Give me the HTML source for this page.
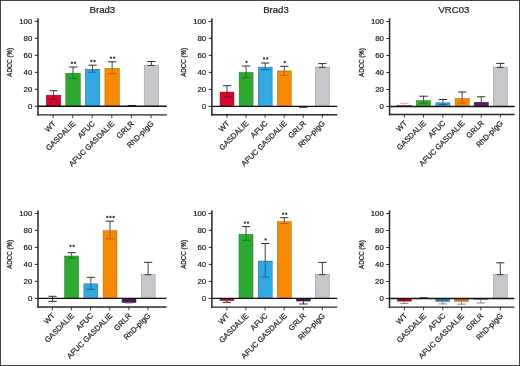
<!DOCTYPE html>
<html><head><meta charset="utf-8"><style>
html,body{margin:0;padding:0;background:#fff;}
body{width:520px;height:366px;overflow:hidden;}
svg{display:block;font-family:"Liberation Sans", sans-serif;-webkit-font-smoothing:antialiased;will-change:transform;}
text{fill:#1c1c1c;stroke:#1c1c1c;stroke-width:0.22px;}
text.yl{stroke-width:0.26px;}
</style></head><body>
<svg width="520" height="366" viewBox="0 0 520 366">
<rect x="0" y="0" width="520" height="366" fill="#fff"/>
<text x="102.40" y="12.50" font-size="9.6" text-anchor="middle">Brad3</text>
<text class="yl" transform="translate(12.00,62.30) rotate(-90)" font-size="7.7" text-anchor="middle" textLength="28.8" lengthAdjust="spacingAndGlyphs">ADCC (%)</text>
<line x1="34.80" y1="106.30" x2="38.00" y2="106.30" stroke="#262626" stroke-width="1"/>
<text x="32.30" y="109.05" font-size="7.8" text-anchor="end">0</text>
<line x1="34.80" y1="89.30" x2="38.00" y2="89.30" stroke="#262626" stroke-width="1"/>
<text x="32.30" y="92.05" font-size="7.8" text-anchor="end">20</text>
<line x1="34.80" y1="72.30" x2="38.00" y2="72.30" stroke="#262626" stroke-width="1"/>
<text x="32.30" y="75.05" font-size="7.8" text-anchor="end">40</text>
<line x1="34.80" y1="55.30" x2="38.00" y2="55.30" stroke="#262626" stroke-width="1"/>
<text x="32.30" y="58.05" font-size="7.8" text-anchor="end">60</text>
<line x1="34.80" y1="38.30" x2="38.00" y2="38.30" stroke="#262626" stroke-width="1"/>
<text x="32.30" y="41.05" font-size="7.8" text-anchor="end">80</text>
<line x1="34.80" y1="21.30" x2="38.00" y2="21.30" stroke="#262626" stroke-width="1"/>
<text x="32.30" y="24.05" font-size="7.8" text-anchor="end">100</text>
<rect x="46.30" y="95.15" width="14.50" height="11.15" fill="#d5072b" stroke="#8a0a22" stroke-width="0.5"/>
<line x1="53.55" y1="90.70" x2="53.55" y2="94.90" stroke="#484848" stroke-width="1.0"/>
<line x1="49.45" y1="90.70" x2="57.65" y2="90.70" stroke="#2e2e2e" stroke-width="1.0"/>
<line x1="53.55" y1="94.90" x2="53.55" y2="99.30" stroke="#8a0a22" stroke-width="1.0"/>
<line x1="49.45" y1="99.30" x2="57.65" y2="99.30" stroke="#8a0a22" stroke-width="1.0"/>
<rect x="65.80" y="73.25" width="14.50" height="33.05" fill="#30a932" stroke="#1b7520" stroke-width="0.5"/>
<line x1="73.05" y1="67.00" x2="73.05" y2="73.00" stroke="#484848" stroke-width="1.0"/>
<line x1="68.95" y1="67.00" x2="77.15" y2="67.00" stroke="#2e2e2e" stroke-width="1.0"/>
<line x1="73.05" y1="73.00" x2="73.05" y2="78.40" stroke="#1b7520" stroke-width="1.0"/>
<line x1="68.95" y1="78.40" x2="77.15" y2="78.40" stroke="#1b7520" stroke-width="1.0"/>
<path d="M71.88,61.60V64.00M70.80,62.20L72.95,63.40M70.80,63.40L72.95,62.20" stroke="#1e1e1e" stroke-width="0.75" fill="none"/>
<path d="M75.03,61.60V64.00M73.95,62.20L76.11,63.40M73.95,63.40L76.11,62.20" stroke="#1e1e1e" stroke-width="0.75" fill="none"/>
<rect x="85.30" y="69.25" width="14.50" height="37.05" fill="#34a6e0" stroke="#1b6690" stroke-width="0.5"/>
<line x1="92.55" y1="65.20" x2="92.55" y2="69.00" stroke="#484848" stroke-width="1.0"/>
<line x1="88.45" y1="65.20" x2="96.65" y2="65.20" stroke="#2e2e2e" stroke-width="1.0"/>
<line x1="92.55" y1="69.00" x2="92.55" y2="72.20" stroke="#1b6690" stroke-width="1.0"/>
<line x1="88.45" y1="72.20" x2="96.65" y2="72.20" stroke="#1b6690" stroke-width="1.0"/>
<path d="M91.38,59.80V62.20M90.30,60.40L92.45,61.60M90.30,61.60L92.45,60.40" stroke="#1e1e1e" stroke-width="0.75" fill="none"/>
<path d="M94.53,59.80V62.20M93.45,60.40L95.61,61.60M93.45,61.60L95.61,60.40" stroke="#1e1e1e" stroke-width="0.75" fill="none"/>
<rect x="104.90" y="68.25" width="14.50" height="38.05" fill="#f68a02" stroke="#b36208" stroke-width="0.5"/>
<line x1="112.15" y1="61.80" x2="112.15" y2="68.00" stroke="#484848" stroke-width="1.0"/>
<line x1="108.05" y1="61.80" x2="116.25" y2="61.80" stroke="#2e2e2e" stroke-width="1.0"/>
<line x1="112.15" y1="68.00" x2="112.15" y2="73.80" stroke="#b36208" stroke-width="1.0"/>
<line x1="108.05" y1="73.80" x2="116.25" y2="73.80" stroke="#b36208" stroke-width="1.0"/>
<path d="M110.97,56.50V58.90M109.89,57.10L112.05,58.30M109.89,58.30L112.05,57.10" stroke="#1e1e1e" stroke-width="0.75" fill="none"/>
<path d="M114.12,56.50V58.90M113.05,57.10L115.20,58.30M113.05,58.30L115.20,57.10" stroke="#1e1e1e" stroke-width="0.75" fill="none"/>
<line x1="127.65" y1="105.60" x2="135.85" y2="105.60" stroke="#2e2e2e" stroke-width="1.3"/>
<rect x="144.20" y="65.15" width="14.50" height="41.15" fill="#c6c6cb" stroke="#8e8e93" stroke-width="0.5"/>
<line x1="151.45" y1="61.50" x2="151.45" y2="64.90" stroke="#484848" stroke-width="1.0"/>
<line x1="147.35" y1="61.50" x2="155.55" y2="61.50" stroke="#2e2e2e" stroke-width="1.0"/>
<line x1="147.85" y1="65.50" x2="154.55" y2="65.50" stroke="#2e2e2e" stroke-width="0.9"/>
<line x1="38.00" y1="106.30" x2="166.80" y2="106.30" stroke="#111" stroke-width="1.4"/>
<line x1="38.00" y1="18.20" x2="38.00" y2="115.60" stroke="#262626" stroke-width="1.5"/>
<line x1="37.30" y1="114.90" x2="166.80" y2="114.90" stroke="#262626" stroke-width="1.4"/>
<line x1="53.20" y1="114.90" x2="53.20" y2="118.10" stroke="#262626" stroke-width="0.9"/>
<text transform="translate(56.30,124.10) rotate(-45)" font-size="7.6" text-anchor="end">WT</text>
<line x1="72.70" y1="114.90" x2="72.70" y2="118.10" stroke="#262626" stroke-width="0.9"/>
<text transform="translate(75.80,124.10) rotate(-45)" font-size="7.6" text-anchor="end">GASDALIE</text>
<line x1="92.20" y1="114.90" x2="92.20" y2="118.10" stroke="#262626" stroke-width="0.9"/>
<text transform="translate(95.30,124.10) rotate(-45)" font-size="7.6" text-anchor="end">AFUC</text>
<line x1="111.80" y1="114.90" x2="111.80" y2="118.10" stroke="#262626" stroke-width="0.9"/>
<text transform="translate(114.90,124.10) rotate(-45)" font-size="7.6" text-anchor="end">AFUC GASDALIE</text>
<line x1="131.40" y1="114.90" x2="131.40" y2="118.10" stroke="#262626" stroke-width="0.9"/>
<text transform="translate(134.50,124.10) rotate(-45)" font-size="7.6" text-anchor="end">GRLR</text>
<line x1="151.10" y1="114.90" x2="151.10" y2="118.10" stroke="#262626" stroke-width="0.9"/>
<text transform="translate(154.20,124.10) rotate(-45)" font-size="7.6" text-anchor="end">RhD-pIgG</text>
<text x="276.00" y="12.50" font-size="9.6" text-anchor="middle">Brad3</text>
<text class="yl" transform="translate(185.90,62.40) rotate(-90)" font-size="7.7" text-anchor="middle" textLength="28.8" lengthAdjust="spacingAndGlyphs">ADCC (%)</text>
<line x1="208.70" y1="106.40" x2="211.90" y2="106.40" stroke="#262626" stroke-width="1"/>
<text x="206.20" y="109.15" font-size="7.8" text-anchor="end">0</text>
<line x1="208.70" y1="89.40" x2="211.90" y2="89.40" stroke="#262626" stroke-width="1"/>
<text x="206.20" y="92.15" font-size="7.8" text-anchor="end">20</text>
<line x1="208.70" y1="72.40" x2="211.90" y2="72.40" stroke="#262626" stroke-width="1"/>
<text x="206.20" y="75.15" font-size="7.8" text-anchor="end">40</text>
<line x1="208.70" y1="55.40" x2="211.90" y2="55.40" stroke="#262626" stroke-width="1"/>
<text x="206.20" y="58.15" font-size="7.8" text-anchor="end">60</text>
<line x1="208.70" y1="38.40" x2="211.90" y2="38.40" stroke="#262626" stroke-width="1"/>
<text x="206.20" y="41.15" font-size="7.8" text-anchor="end">80</text>
<line x1="208.70" y1="21.40" x2="211.90" y2="21.40" stroke="#262626" stroke-width="1"/>
<text x="206.20" y="24.15" font-size="7.8" text-anchor="end">100</text>
<rect x="220.05" y="92.05" width="13.90" height="14.35" fill="#d5072b" stroke="#8a0a22" stroke-width="0.5"/>
<line x1="227.00" y1="85.70" x2="227.00" y2="91.80" stroke="#484848" stroke-width="1.0"/>
<line x1="222.90" y1="85.70" x2="231.10" y2="85.70" stroke="#2e2e2e" stroke-width="1.0"/>
<line x1="227.00" y1="91.80" x2="227.00" y2="97.10" stroke="#8a0a22" stroke-width="1.0"/>
<line x1="222.90" y1="97.10" x2="231.10" y2="97.10" stroke="#8a0a22" stroke-width="1.0"/>
<rect x="239.15" y="72.45" width="13.90" height="33.95" fill="#30a932" stroke="#1b7520" stroke-width="0.5"/>
<line x1="246.10" y1="66.00" x2="246.10" y2="72.20" stroke="#484848" stroke-width="1.0"/>
<line x1="242.00" y1="66.00" x2="250.20" y2="66.00" stroke="#2e2e2e" stroke-width="1.0"/>
<line x1="246.10" y1="72.20" x2="246.10" y2="77.70" stroke="#1b7520" stroke-width="1.0"/>
<line x1="242.00" y1="77.70" x2="250.20" y2="77.70" stroke="#1b7520" stroke-width="1.0"/>
<path d="M246.50,60.70V63.10M245.42,61.30L247.58,62.50M245.42,62.50L247.58,61.30" stroke="#1e1e1e" stroke-width="0.75" fill="none"/>
<rect x="258.25" y="67.15" width="13.90" height="39.25" fill="#34a6e0" stroke="#1b6690" stroke-width="0.5"/>
<line x1="265.20" y1="63.00" x2="265.20" y2="66.90" stroke="#484848" stroke-width="1.0"/>
<line x1="261.10" y1="63.00" x2="269.30" y2="63.00" stroke="#2e2e2e" stroke-width="1.0"/>
<line x1="265.20" y1="66.90" x2="265.20" y2="69.60" stroke="#1b6690" stroke-width="1.0"/>
<line x1="261.10" y1="69.60" x2="269.30" y2="69.60" stroke="#1b6690" stroke-width="1.0"/>
<path d="M264.03,57.20V59.60M262.95,57.80L265.11,59.00M262.95,59.00L265.11,57.80" stroke="#1e1e1e" stroke-width="0.75" fill="none"/>
<path d="M267.18,57.20V59.60M266.10,57.80L268.25,59.00M266.10,59.00L268.25,57.80" stroke="#1e1e1e" stroke-width="0.75" fill="none"/>
<rect x="277.35" y="70.95" width="13.90" height="35.45" fill="#f68a02" stroke="#b36208" stroke-width="0.5"/>
<line x1="284.30" y1="66.30" x2="284.30" y2="70.70" stroke="#484848" stroke-width="1.0"/>
<line x1="280.20" y1="66.30" x2="288.40" y2="66.30" stroke="#2e2e2e" stroke-width="1.0"/>
<line x1="284.30" y1="70.70" x2="284.30" y2="75.40" stroke="#b36208" stroke-width="1.0"/>
<line x1="280.20" y1="75.40" x2="288.40" y2="75.40" stroke="#b36208" stroke-width="1.0"/>
<path d="M284.70,60.80V63.20M283.62,61.40L285.78,62.60M283.62,62.60L285.78,61.40" stroke="#1e1e1e" stroke-width="0.75" fill="none"/>
<line x1="299.20" y1="107.20" x2="307.40" y2="107.20" stroke="#2e2e2e" stroke-width="1.3"/>
<rect x="315.45" y="67.05" width="13.90" height="39.35" fill="#c6c6cb" stroke="#8e8e93" stroke-width="0.5"/>
<line x1="322.40" y1="63.60" x2="322.40" y2="66.80" stroke="#484848" stroke-width="1.0"/>
<line x1="318.30" y1="63.60" x2="326.50" y2="63.60" stroke="#2e2e2e" stroke-width="1.0"/>
<line x1="318.80" y1="67.40" x2="325.50" y2="67.40" stroke="#2e2e2e" stroke-width="0.9"/>
<line x1="211.90" y1="106.40" x2="337.30" y2="106.40" stroke="#111" stroke-width="1.4"/>
<line x1="211.90" y1="18.30" x2="211.90" y2="115.40" stroke="#262626" stroke-width="1.5"/>
<line x1="211.20" y1="114.70" x2="337.30" y2="114.70" stroke="#262626" stroke-width="1.4"/>
<line x1="226.90" y1="114.70" x2="226.90" y2="117.90" stroke="#262626" stroke-width="0.9"/>
<text transform="translate(230.00,123.90) rotate(-45)" font-size="7.6" text-anchor="end">WT</text>
<line x1="246.00" y1="114.70" x2="246.00" y2="117.90" stroke="#262626" stroke-width="0.9"/>
<text transform="translate(249.10,123.90) rotate(-45)" font-size="7.6" text-anchor="end">GASDALIE</text>
<line x1="265.10" y1="114.70" x2="265.10" y2="117.90" stroke="#262626" stroke-width="0.9"/>
<text transform="translate(268.20,123.90) rotate(-45)" font-size="7.6" text-anchor="end">AFUC</text>
<line x1="284.20" y1="114.70" x2="284.20" y2="117.90" stroke="#262626" stroke-width="0.9"/>
<text transform="translate(287.30,123.90) rotate(-45)" font-size="7.6" text-anchor="end">AFUC GASDALIE</text>
<line x1="303.20" y1="114.70" x2="303.20" y2="117.90" stroke="#262626" stroke-width="0.9"/>
<text transform="translate(306.30,123.90) rotate(-45)" font-size="7.6" text-anchor="end">GRLR</text>
<line x1="322.30" y1="114.70" x2="322.30" y2="117.90" stroke="#262626" stroke-width="0.9"/>
<text transform="translate(325.40,123.90) rotate(-45)" font-size="7.6" text-anchor="end">RhD-pIgG</text>
<text x="453.90" y="12.50" font-size="9.6" text-anchor="middle">VRC03</text>
<text class="yl" transform="translate(363.60,62.50) rotate(-90)" font-size="7.7" text-anchor="middle" textLength="28.8" lengthAdjust="spacingAndGlyphs">ADCC (%)</text>
<line x1="386.40" y1="106.50" x2="389.60" y2="106.50" stroke="#262626" stroke-width="1"/>
<text x="383.90" y="109.25" font-size="7.8" text-anchor="end">0</text>
<line x1="386.40" y1="89.50" x2="389.60" y2="89.50" stroke="#262626" stroke-width="1"/>
<text x="383.90" y="92.25" font-size="7.8" text-anchor="end">20</text>
<line x1="386.40" y1="72.50" x2="389.60" y2="72.50" stroke="#262626" stroke-width="1"/>
<text x="383.90" y="75.25" font-size="7.8" text-anchor="end">40</text>
<line x1="386.40" y1="55.50" x2="389.60" y2="55.50" stroke="#262626" stroke-width="1"/>
<text x="383.90" y="58.25" font-size="7.8" text-anchor="end">60</text>
<line x1="386.40" y1="38.50" x2="389.60" y2="38.50" stroke="#262626" stroke-width="1"/>
<text x="383.90" y="41.25" font-size="7.8" text-anchor="end">80</text>
<line x1="386.40" y1="21.50" x2="389.60" y2="21.50" stroke="#262626" stroke-width="1"/>
<text x="383.90" y="24.25" font-size="7.8" text-anchor="end">100</text>
<rect x="397.40" y="105.65" width="14.10" height="0.85" fill="#d5072b" stroke="#8a0a22" stroke-width="0.5"/>
<line x1="404.45" y1="103.30" x2="404.45" y2="105.40" stroke="#e8a0ae" stroke-width="1.0"/>
<line x1="400.35" y1="103.30" x2="408.55" y2="103.30" stroke="#e8a0ae" stroke-width="1.0"/>
<rect x="416.50" y="100.55" width="14.10" height="5.95" fill="#30a932" stroke="#1b7520" stroke-width="0.5"/>
<line x1="423.55" y1="96.20" x2="423.55" y2="100.30" stroke="#484848" stroke-width="1.0"/>
<line x1="419.45" y1="96.20" x2="427.65" y2="96.20" stroke="#2e2e2e" stroke-width="1.0"/>
<line x1="423.55" y1="100.30" x2="423.55" y2="103.20" stroke="#1b7520" stroke-width="1.0"/>
<line x1="419.45" y1="103.20" x2="427.65" y2="103.20" stroke="#1b7520" stroke-width="1.0"/>
<rect x="435.80" y="102.85" width="14.10" height="3.65" fill="#34a6e0" stroke="#1b6690" stroke-width="0.5"/>
<line x1="442.85" y1="99.50" x2="442.85" y2="102.60" stroke="#484848" stroke-width="1.0"/>
<line x1="438.75" y1="99.50" x2="446.95" y2="99.50" stroke="#2e2e2e" stroke-width="1.0"/>
<line x1="442.85" y1="102.60" x2="442.85" y2="104.60" stroke="#1b6690" stroke-width="1.0"/>
<line x1="438.75" y1="104.60" x2="446.95" y2="104.60" stroke="#1b6690" stroke-width="1.0"/>
<rect x="455.10" y="98.45" width="14.10" height="8.05" fill="#f68a02" stroke="#b36208" stroke-width="0.5"/>
<line x1="462.15" y1="92.00" x2="462.15" y2="98.20" stroke="#484848" stroke-width="1.0"/>
<line x1="458.05" y1="92.00" x2="466.25" y2="92.00" stroke="#2e2e2e" stroke-width="1.0"/>
<line x1="462.15" y1="98.20" x2="462.15" y2="102.90" stroke="#b36208" stroke-width="1.0"/>
<line x1="458.05" y1="102.90" x2="466.25" y2="102.90" stroke="#b36208" stroke-width="1.0"/>
<rect x="474.20" y="102.25" width="14.10" height="4.25" fill="#561e66" stroke="#3a0f48" stroke-width="0.5"/>
<line x1="481.25" y1="96.80" x2="481.25" y2="102.00" stroke="#484848" stroke-width="1.0"/>
<line x1="477.15" y1="96.80" x2="485.35" y2="96.80" stroke="#2e2e2e" stroke-width="1.0"/>
<rect x="493.30" y="67.05" width="14.10" height="39.45" fill="#c6c6cb" stroke="#8e8e93" stroke-width="0.5"/>
<line x1="500.35" y1="63.40" x2="500.35" y2="66.80" stroke="#484848" stroke-width="1.0"/>
<line x1="496.25" y1="63.40" x2="504.45" y2="63.40" stroke="#2e2e2e" stroke-width="1.0"/>
<line x1="496.75" y1="67.40" x2="503.45" y2="67.40" stroke="#2e2e2e" stroke-width="0.9"/>
<line x1="389.60" y1="106.50" x2="514.60" y2="106.50" stroke="#111" stroke-width="1.4"/>
<line x1="389.60" y1="18.40" x2="389.60" y2="115.20" stroke="#262626" stroke-width="1.5"/>
<line x1="388.90" y1="114.50" x2="514.60" y2="114.50" stroke="#262626" stroke-width="1.4"/>
<line x1="404.40" y1="114.50" x2="404.40" y2="117.70" stroke="#262626" stroke-width="0.9"/>
<text transform="translate(407.50,123.70) rotate(-45)" font-size="7.6" text-anchor="end">WT</text>
<line x1="423.50" y1="114.50" x2="423.50" y2="117.70" stroke="#262626" stroke-width="0.9"/>
<text transform="translate(426.60,123.70) rotate(-45)" font-size="7.6" text-anchor="end">GASDALIE</text>
<line x1="442.80" y1="114.50" x2="442.80" y2="117.70" stroke="#262626" stroke-width="0.9"/>
<text transform="translate(445.90,123.70) rotate(-45)" font-size="7.6" text-anchor="end">AFUC</text>
<line x1="462.10" y1="114.50" x2="462.10" y2="117.70" stroke="#262626" stroke-width="0.9"/>
<text transform="translate(465.20,123.70) rotate(-45)" font-size="7.6" text-anchor="end">AFUC GASDALIE</text>
<line x1="481.20" y1="114.50" x2="481.20" y2="117.70" stroke="#262626" stroke-width="0.9"/>
<text transform="translate(484.30,123.70) rotate(-45)" font-size="7.6" text-anchor="end">GRLR</text>
<line x1="500.30" y1="114.50" x2="500.30" y2="117.70" stroke="#262626" stroke-width="0.9"/>
<text transform="translate(503.40,123.70) rotate(-45)" font-size="7.6" text-anchor="end">RhD-pIgG</text>
<text class="yl" transform="translate(12.00,254.40) rotate(-90)" font-size="7.7" text-anchor="middle" textLength="28.8" lengthAdjust="spacingAndGlyphs">ADCC (%)</text>
<line x1="34.80" y1="298.40" x2="38.00" y2="298.40" stroke="#262626" stroke-width="1"/>
<text x="32.30" y="301.15" font-size="7.8" text-anchor="end">0</text>
<line x1="34.80" y1="281.40" x2="38.00" y2="281.40" stroke="#262626" stroke-width="1"/>
<text x="32.30" y="284.15" font-size="7.8" text-anchor="end">20</text>
<line x1="34.80" y1="264.40" x2="38.00" y2="264.40" stroke="#262626" stroke-width="1"/>
<text x="32.30" y="267.15" font-size="7.8" text-anchor="end">40</text>
<line x1="34.80" y1="247.40" x2="38.00" y2="247.40" stroke="#262626" stroke-width="1"/>
<text x="32.30" y="250.15" font-size="7.8" text-anchor="end">60</text>
<line x1="34.80" y1="230.40" x2="38.00" y2="230.40" stroke="#262626" stroke-width="1"/>
<text x="32.30" y="233.15" font-size="7.8" text-anchor="end">80</text>
<line x1="34.80" y1="213.40" x2="38.00" y2="213.40" stroke="#262626" stroke-width="1"/>
<text x="32.30" y="216.15" font-size="7.8" text-anchor="end">100</text>
<line x1="52.55" y1="296.30" x2="52.55" y2="301.40" stroke="#2e2e2e" stroke-width="1.0"/>
<line x1="48.45" y1="296.30" x2="56.65" y2="296.30" stroke="#2e2e2e" stroke-width="1.0"/>
<line x1="48.45" y1="301.40" x2="56.65" y2="301.40" stroke="#2e2e2e" stroke-width="1.0"/>
<rect x="64.70" y="256.05" width="13.90" height="42.35" fill="#30a932" stroke="#1b7520" stroke-width="0.5"/>
<line x1="71.65" y1="252.60" x2="71.65" y2="255.80" stroke="#484848" stroke-width="1.0"/>
<line x1="67.55" y1="252.60" x2="75.75" y2="252.60" stroke="#2e2e2e" stroke-width="1.0"/>
<line x1="71.65" y1="255.80" x2="71.65" y2="258.00" stroke="#1b7520" stroke-width="1.0"/>
<line x1="67.55" y1="258.00" x2="75.75" y2="258.00" stroke="#1b7520" stroke-width="1.0"/>
<path d="M70.48,244.70V247.10M69.40,245.30L71.56,246.50M69.40,246.50L71.56,245.30" stroke="#1e1e1e" stroke-width="0.75" fill="none"/>
<path d="M73.63,244.70V247.10M72.55,245.30L74.71,246.50M72.55,246.50L74.71,245.30" stroke="#1e1e1e" stroke-width="0.75" fill="none"/>
<rect x="83.90" y="283.85" width="13.90" height="14.55" fill="#34a6e0" stroke="#1b6690" stroke-width="0.5"/>
<line x1="90.85" y1="277.30" x2="90.85" y2="283.60" stroke="#484848" stroke-width="1.0"/>
<line x1="86.75" y1="277.30" x2="94.95" y2="277.30" stroke="#2e2e2e" stroke-width="1.0"/>
<line x1="90.85" y1="283.60" x2="90.85" y2="289.30" stroke="#1b6690" stroke-width="1.0"/>
<line x1="86.75" y1="289.30" x2="94.95" y2="289.30" stroke="#1b6690" stroke-width="1.0"/>
<rect x="103.10" y="230.65" width="13.90" height="67.75" fill="#f68a02" stroke="#b36208" stroke-width="0.5"/>
<line x1="110.05" y1="221.20" x2="110.05" y2="230.40" stroke="#484848" stroke-width="1.0"/>
<line x1="105.95" y1="221.20" x2="114.15" y2="221.20" stroke="#2e2e2e" stroke-width="1.0"/>
<line x1="110.05" y1="230.40" x2="110.05" y2="238.90" stroke="#b36208" stroke-width="1.0"/>
<line x1="105.95" y1="238.90" x2="114.15" y2="238.90" stroke="#b36208" stroke-width="1.0"/>
<path d="M107.30,215.80V218.20M106.22,216.40L108.38,217.60M106.22,217.60L108.38,216.40" stroke="#1e1e1e" stroke-width="0.75" fill="none"/>
<path d="M110.45,215.80V218.20M109.37,216.40L111.53,217.60M109.37,217.60L111.53,216.40" stroke="#1e1e1e" stroke-width="0.75" fill="none"/>
<path d="M113.60,215.80V218.20M112.52,216.40L114.68,217.60M112.52,217.60L114.68,216.40" stroke="#1e1e1e" stroke-width="0.75" fill="none"/>
<rect x="122.10" y="298.40" width="13.90" height="4.15" fill="#4b185a" stroke="#3a0f48" stroke-width="0.5"/>
<line x1="129.05" y1="302.80" x2="129.05" y2="303.30" stroke="#b79ac0" stroke-width="0.8"/>
<line x1="124.95" y1="303.30" x2="133.15" y2="303.30" stroke="#b79ac0" stroke-width="0.8"/>
<rect x="141.20" y="274.35" width="13.90" height="24.05" fill="#c6c6cb" stroke="#8e8e93" stroke-width="0.5"/>
<line x1="148.15" y1="262.30" x2="148.15" y2="274.10" stroke="#484848" stroke-width="1.0"/>
<line x1="144.05" y1="262.30" x2="152.25" y2="262.30" stroke="#2e2e2e" stroke-width="1.0"/>
<line x1="144.55" y1="274.70" x2="151.25" y2="274.70" stroke="#2e2e2e" stroke-width="0.9"/>
<line x1="38.00" y1="298.40" x2="166.60" y2="298.40" stroke="#111" stroke-width="1.4"/>
<line x1="38.00" y1="210.30" x2="38.00" y2="307.70" stroke="#262626" stroke-width="1.5"/>
<line x1="37.30" y1="307.00" x2="166.60" y2="307.00" stroke="#262626" stroke-width="1.4"/>
<line x1="52.30" y1="307.00" x2="52.30" y2="310.20" stroke="#262626" stroke-width="0.9"/>
<text transform="translate(55.40,316.20) rotate(-45)" font-size="7.6" text-anchor="end">WT</text>
<line x1="71.40" y1="307.00" x2="71.40" y2="310.20" stroke="#262626" stroke-width="0.9"/>
<text transform="translate(74.50,316.20) rotate(-45)" font-size="7.6" text-anchor="end">GASDALIE</text>
<line x1="90.60" y1="307.00" x2="90.60" y2="310.20" stroke="#262626" stroke-width="0.9"/>
<text transform="translate(93.70,316.20) rotate(-45)" font-size="7.6" text-anchor="end">AFUC</text>
<line x1="109.80" y1="307.00" x2="109.80" y2="310.20" stroke="#262626" stroke-width="0.9"/>
<text transform="translate(112.90,316.20) rotate(-45)" font-size="7.6" text-anchor="end">AFUC GASDALIE</text>
<line x1="128.80" y1="307.00" x2="128.80" y2="310.20" stroke="#262626" stroke-width="0.9"/>
<text transform="translate(131.90,316.20) rotate(-45)" font-size="7.6" text-anchor="end">GRLR</text>
<line x1="147.90" y1="307.00" x2="147.90" y2="310.20" stroke="#262626" stroke-width="0.9"/>
<text transform="translate(151.00,316.20) rotate(-45)" font-size="7.6" text-anchor="end">RhD-pIgG</text>
<text class="yl" transform="translate(185.90,254.40) rotate(-90)" font-size="7.7" text-anchor="middle" textLength="28.8" lengthAdjust="spacingAndGlyphs">ADCC (%)</text>
<line x1="208.70" y1="298.40" x2="211.90" y2="298.40" stroke="#262626" stroke-width="1"/>
<text x="206.20" y="301.15" font-size="7.8" text-anchor="end">0</text>
<line x1="208.70" y1="281.40" x2="211.90" y2="281.40" stroke="#262626" stroke-width="1"/>
<text x="206.20" y="284.15" font-size="7.8" text-anchor="end">20</text>
<line x1="208.70" y1="264.40" x2="211.90" y2="264.40" stroke="#262626" stroke-width="1"/>
<text x="206.20" y="267.15" font-size="7.8" text-anchor="end">40</text>
<line x1="208.70" y1="247.40" x2="211.90" y2="247.40" stroke="#262626" stroke-width="1"/>
<text x="206.20" y="250.15" font-size="7.8" text-anchor="end">60</text>
<line x1="208.70" y1="230.40" x2="211.90" y2="230.40" stroke="#262626" stroke-width="1"/>
<text x="206.20" y="233.15" font-size="7.8" text-anchor="end">80</text>
<line x1="208.70" y1="213.40" x2="211.90" y2="213.40" stroke="#262626" stroke-width="1"/>
<text x="206.20" y="216.15" font-size="7.8" text-anchor="end">100</text>
<rect x="219.90" y="298.40" width="14.00" height="2.15" fill="#b00826" stroke="#8a0a22" stroke-width="0.5"/>
<line x1="226.90" y1="300.80" x2="226.90" y2="302.30" stroke="#2e2e2e" stroke-width="1"/>
<line x1="222.80" y1="302.30" x2="231.00" y2="302.30" stroke="#2e2e2e" stroke-width="1"/>
<rect x="239.00" y="234.35" width="14.00" height="64.05" fill="#30a932" stroke="#1b7520" stroke-width="0.5"/>
<line x1="246.00" y1="226.60" x2="246.00" y2="234.10" stroke="#484848" stroke-width="1.0"/>
<line x1="241.90" y1="226.60" x2="250.10" y2="226.60" stroke="#2e2e2e" stroke-width="1.0"/>
<line x1="246.00" y1="234.10" x2="246.00" y2="240.30" stroke="#1b7520" stroke-width="1.0"/>
<line x1="241.90" y1="240.30" x2="250.10" y2="240.30" stroke="#1b7520" stroke-width="1.0"/>
<path d="M244.83,221.40V223.80M243.75,222.00L245.91,223.20M243.75,223.20L245.91,222.00" stroke="#1e1e1e" stroke-width="0.75" fill="none"/>
<path d="M247.97,221.40V223.80M246.89,222.00L249.06,223.20M246.89,223.20L249.06,222.00" stroke="#1e1e1e" stroke-width="0.75" fill="none"/>
<rect x="258.20" y="261.05" width="14.00" height="37.35" fill="#34a6e0" stroke="#1b6690" stroke-width="0.5"/>
<line x1="265.20" y1="243.50" x2="265.20" y2="260.80" stroke="#484848" stroke-width="1.0"/>
<line x1="261.10" y1="243.50" x2="269.30" y2="243.50" stroke="#2e2e2e" stroke-width="1.0"/>
<line x1="265.20" y1="260.80" x2="265.20" y2="277.00" stroke="#1b6690" stroke-width="1.0"/>
<line x1="261.10" y1="277.00" x2="269.30" y2="277.00" stroke="#1b6690" stroke-width="1.0"/>
<path d="M265.60,238.20V240.60M264.52,238.80L266.68,240.00M264.52,240.00L266.68,238.80" stroke="#1e1e1e" stroke-width="0.75" fill="none"/>
<rect x="277.30" y="221.55" width="14.00" height="76.85" fill="#f68a02" stroke="#b36208" stroke-width="0.5"/>
<line x1="284.30" y1="217.70" x2="284.30" y2="221.30" stroke="#484848" stroke-width="1.0"/>
<line x1="280.20" y1="217.70" x2="288.40" y2="217.70" stroke="#2e2e2e" stroke-width="1.0"/>
<line x1="284.30" y1="221.30" x2="284.30" y2="223.60" stroke="#b36208" stroke-width="1.0"/>
<line x1="280.20" y1="223.60" x2="288.40" y2="223.60" stroke="#b36208" stroke-width="1.0"/>
<path d="M283.12,212.50V214.90M282.05,213.10L284.20,214.30M282.05,214.30L284.20,213.10" stroke="#1e1e1e" stroke-width="0.75" fill="none"/>
<path d="M286.27,212.50V214.90M285.19,213.10L287.35,214.30M285.19,214.30L287.35,213.10" stroke="#1e1e1e" stroke-width="0.75" fill="none"/>
<rect x="296.40" y="298.40" width="14.00" height="2.65" fill="#481657" stroke="#3a0f48" stroke-width="0.5"/>
<line x1="303.40" y1="301.30" x2="303.40" y2="304.00" stroke="#2e2e2e" stroke-width="1"/>
<line x1="299.30" y1="304.00" x2="307.50" y2="304.00" stroke="#2e2e2e" stroke-width="1"/>
<rect x="315.40" y="274.25" width="14.00" height="24.15" fill="#c6c6cb" stroke="#8e8e93" stroke-width="0.5"/>
<line x1="322.40" y1="262.40" x2="322.40" y2="274.00" stroke="#484848" stroke-width="1.0"/>
<line x1="318.30" y1="262.40" x2="326.50" y2="262.40" stroke="#2e2e2e" stroke-width="1.0"/>
<line x1="318.80" y1="274.60" x2="325.50" y2="274.60" stroke="#2e2e2e" stroke-width="0.9"/>
<line x1="211.90" y1="298.40" x2="337.30" y2="298.40" stroke="#111" stroke-width="1.4"/>
<line x1="211.90" y1="210.30" x2="211.90" y2="307.80" stroke="#262626" stroke-width="1.5"/>
<line x1="211.20" y1="307.10" x2="337.30" y2="307.10" stroke="#262626" stroke-width="1.4"/>
<line x1="226.80" y1="307.10" x2="226.80" y2="310.30" stroke="#262626" stroke-width="0.9"/>
<text transform="translate(229.90,316.30) rotate(-45)" font-size="7.6" text-anchor="end">WT</text>
<line x1="245.90" y1="307.10" x2="245.90" y2="310.30" stroke="#262626" stroke-width="0.9"/>
<text transform="translate(249.00,316.30) rotate(-45)" font-size="7.6" text-anchor="end">GASDALIE</text>
<line x1="265.10" y1="307.10" x2="265.10" y2="310.30" stroke="#262626" stroke-width="0.9"/>
<text transform="translate(268.20,316.30) rotate(-45)" font-size="7.6" text-anchor="end">AFUC</text>
<line x1="284.20" y1="307.10" x2="284.20" y2="310.30" stroke="#262626" stroke-width="0.9"/>
<text transform="translate(287.30,316.30) rotate(-45)" font-size="7.6" text-anchor="end">AFUC GASDALIE</text>
<line x1="303.30" y1="307.10" x2="303.30" y2="310.30" stroke="#262626" stroke-width="0.9"/>
<text transform="translate(306.40,316.30) rotate(-45)" font-size="7.6" text-anchor="end">GRLR</text>
<line x1="322.30" y1="307.10" x2="322.30" y2="310.30" stroke="#262626" stroke-width="0.9"/>
<text transform="translate(325.40,316.30) rotate(-45)" font-size="7.6" text-anchor="end">RhD-pIgG</text>
<text class="yl" transform="translate(363.50,254.50) rotate(-90)" font-size="7.7" text-anchor="middle" textLength="28.8" lengthAdjust="spacingAndGlyphs">ADCC (%)</text>
<line x1="386.30" y1="298.50" x2="389.50" y2="298.50" stroke="#262626" stroke-width="1"/>
<text x="383.80" y="301.25" font-size="7.8" text-anchor="end">0</text>
<line x1="386.30" y1="281.50" x2="389.50" y2="281.50" stroke="#262626" stroke-width="1"/>
<text x="383.80" y="284.25" font-size="7.8" text-anchor="end">20</text>
<line x1="386.30" y1="264.50" x2="389.50" y2="264.50" stroke="#262626" stroke-width="1"/>
<text x="383.80" y="267.25" font-size="7.8" text-anchor="end">40</text>
<line x1="386.30" y1="247.50" x2="389.50" y2="247.50" stroke="#262626" stroke-width="1"/>
<text x="383.80" y="250.25" font-size="7.8" text-anchor="end">60</text>
<line x1="386.30" y1="230.50" x2="389.50" y2="230.50" stroke="#262626" stroke-width="1"/>
<text x="383.80" y="233.25" font-size="7.8" text-anchor="end">80</text>
<line x1="386.30" y1="213.50" x2="389.50" y2="213.50" stroke="#262626" stroke-width="1"/>
<text x="383.80" y="216.25" font-size="7.8" text-anchor="end">100</text>
<rect x="397.45" y="298.50" width="13.90" height="2.65" fill="#b00826" stroke="#8a0a22" stroke-width="0.5"/>
<line x1="404.40" y1="301.40" x2="404.40" y2="303.40" stroke="#6a6a6a" stroke-width="0.8"/>
<line x1="400.30" y1="303.40" x2="408.50" y2="303.40" stroke="#6a6a6a" stroke-width="0.8"/>
<line x1="419.50" y1="297.90" x2="427.70" y2="297.90" stroke="#2e2e2e" stroke-width="1.3"/>
<rect x="435.85" y="298.50" width="13.90" height="2.95" fill="#2886b8" stroke="#1b6690" stroke-width="0.5"/>
<line x1="442.80" y1="301.70" x2="442.80" y2="303.90" stroke="#6a6a6a" stroke-width="0.8"/>
<line x1="438.70" y1="303.90" x2="446.90" y2="303.90" stroke="#6a6a6a" stroke-width="0.8"/>
<rect x="454.65" y="298.50" width="13.90" height="2.75" fill="#d47605" stroke="#b36208" stroke-width="0.5"/>
<line x1="461.60" y1="301.50" x2="461.60" y2="304.20" stroke="#6a6a6a" stroke-width="0.8"/>
<line x1="457.50" y1="304.20" x2="465.70" y2="304.20" stroke="#6a6a6a" stroke-width="0.8"/>
<rect x="473.85" y="298.50" width="13.90" height="0.65" fill="#481657" stroke="#3a0f48" stroke-width="0.5"/>
<line x1="480.80" y1="299.40" x2="480.80" y2="303.00" stroke="#6a6a6a" stroke-width="0.8"/>
<line x1="476.70" y1="303.00" x2="484.90" y2="303.00" stroke="#6a6a6a" stroke-width="0.8"/>
<rect x="493.35" y="274.25" width="13.90" height="24.25" fill="#c6c6cb" stroke="#8e8e93" stroke-width="0.5"/>
<line x1="500.30" y1="262.80" x2="500.30" y2="274.00" stroke="#484848" stroke-width="1.0"/>
<line x1="496.20" y1="262.80" x2="504.40" y2="262.80" stroke="#2e2e2e" stroke-width="1.0"/>
<line x1="496.70" y1="274.60" x2="503.40" y2="274.60" stroke="#2e2e2e" stroke-width="0.9"/>
<line x1="389.50" y1="298.50" x2="514.40" y2="298.50" stroke="#111" stroke-width="1.4"/>
<line x1="389.50" y1="210.40" x2="389.50" y2="307.80" stroke="#262626" stroke-width="1.5"/>
<line x1="388.80" y1="307.10" x2="514.40" y2="307.10" stroke="#262626" stroke-width="1.4"/>
<line x1="404.40" y1="307.10" x2="404.40" y2="310.30" stroke="#262626" stroke-width="0.9"/>
<text transform="translate(407.50,316.30) rotate(-45)" font-size="7.6" text-anchor="end">WT</text>
<line x1="423.60" y1="307.10" x2="423.60" y2="310.30" stroke="#262626" stroke-width="0.9"/>
<text transform="translate(426.70,316.30) rotate(-45)" font-size="7.6" text-anchor="end">GASDALIE</text>
<line x1="442.80" y1="307.10" x2="442.80" y2="310.30" stroke="#262626" stroke-width="0.9"/>
<text transform="translate(445.90,316.30) rotate(-45)" font-size="7.6" text-anchor="end">AFUC</text>
<line x1="461.60" y1="307.10" x2="461.60" y2="310.30" stroke="#262626" stroke-width="0.9"/>
<text transform="translate(464.70,316.30) rotate(-45)" font-size="7.6" text-anchor="end">AFUC GASDALIE</text>
<line x1="480.80" y1="307.10" x2="480.80" y2="310.30" stroke="#262626" stroke-width="0.9"/>
<text transform="translate(483.90,316.30) rotate(-45)" font-size="7.6" text-anchor="end">GRLR</text>
<line x1="500.30" y1="307.10" x2="500.30" y2="310.30" stroke="#262626" stroke-width="0.9"/>
<text transform="translate(503.40,316.30) rotate(-45)" font-size="7.6" text-anchor="end">RhD-pIgG</text>
<rect x="0.5" y="0.5" width="519" height="365" fill="none" stroke="#444" stroke-width="1"/>
</svg>
</body></html>
